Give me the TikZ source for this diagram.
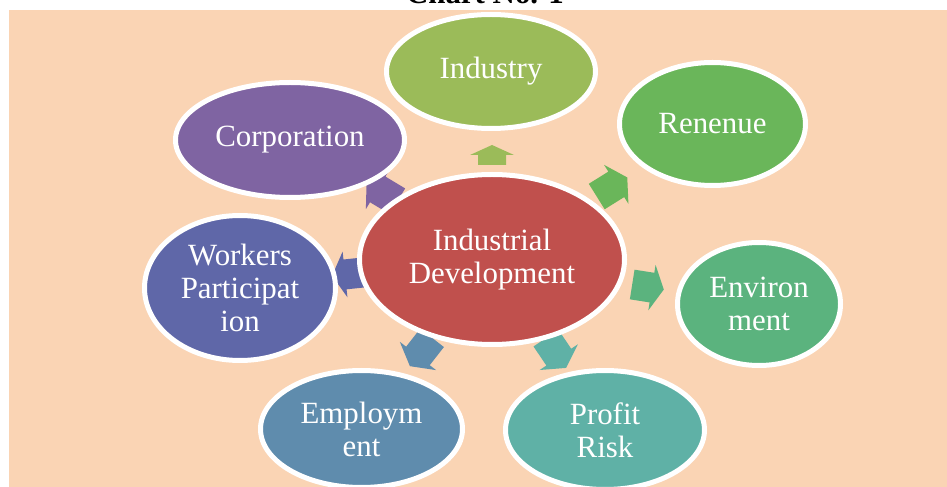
\documentclass[tikz,border=0pt]{standalone}
\usepackage{fontspec}
\setmainfont{Liberation Serif}
\usetikzlibrary{shapes.geometric}
\definecolor{bgpeach}{HTML}{FAD4B4}
\definecolor{cRed}{HTML}{C0504D}
\definecolor{cIndustry}{HTML}{9BBB59}
\definecolor{cRenenue}{HTML}{6AB65A}
\definecolor{cEnv}{HTML}{5BB37E}
\definecolor{cProfit}{HTML}{5FB1A6}
\definecolor{cEmploy}{HTML}{5F8CAD}
\definecolor{cWorkers}{HTML}{5F67A8}
\definecolor{cCorp}{HTML}{7F64A2}
\tikzset{
  bubble/.style={ellipse, draw=white, line width=5bp, text=white, align=center,
    inner sep=0pt, font=\fontsize{31}{33}\selectfont},
}
% block arrow: center x, center y, angle, length, colour, head length, shaft half, head half
\newcommand{\blkarrow}[8]{%
  \begin{scope}[shift={(#1,#2)}, rotate=#3]
    \fill[#5] (-#4/2,-#7) -- (#4/2-#6,-#7) -- (#4/2-#6,-#8) -- (#4/2,0)
      -- (#4/2-#6,#8) -- (#4/2-#6,#7) -- (-#4/2,#7) -- cycle;
  \end{scope}}
\begin{document}
\begin{tikzpicture}[x=1bp,y=-1bp]
\useasboundingbox (0,0) rectangle (947,487);
\clip (0,0) rectangle (947,487);
\fill[white] (0,0) rectangle (947,487);
\node[font=\fontsize{31}{33}\selectfont\bfseries, anchor=base] (title) at (485,4) {Chart No. 1};
\fill[bgpeach] (9,10) rectangle (947,487);
% arrows
\blkarrow{492}{155}{90}{20}{cIndustry}{10}{14}{22}
\blkarrow{612}{187}{32}{36}{cRenenue}{13}{15}{23}
\blkarrow{648}{287}{-9}{32}{cEnv}{12}{15}{23}
\blkarrow{556}{353}{-56}{36}{cProfit}{13}{15}{23}
\blkarrow{421}{352}{-128}{36}{cEmploy}{13}{15}{23}
\blkarrow{349}{274}{186}{34}{cWorkers}{13}{15}{23}
\blkarrow{382}{192}{149}{36}{cCorp}{13}{15}{23}
% ellipses
\node[bubble, fill=cIndustry, minimum width=209bp, minimum height=114bp] (industry) at (491,71.5) {Industry};
\node[bubble, fill=cRenenue, minimum width=186bp, minimum height=123bp] (renenue) at (712.5,124) {Renenue};
\node[bubble, fill=cEnv, minimum width=163bp, minimum height=123bp] (environ) at (759,304) {Environ\\ment};
\node[bubble, fill=cProfit, minimum width=199bp, minimum height=119bp] (profit) at (605,430) {Profit\\Risk};
\node[bubble, fill=cEmploy, minimum width=202bp, minimum height=117bp] (employ) at (361.5,429) {Employm\\ent};
\node[bubble, fill=cWorkers, minimum width=191bp, minimum height=145bp] (workers) at (240,288) {Workers\\Participat\\ion};
\node[bubble, fill=cCorp, minimum width=229bp, minimum height=115bp] (corp) at (290,140) {Corporation};
\node[bubble, fill=cRed, minimum width=265bp, minimum height=170bp] (center) at (492,259.5) {Industrial\\Development};
\end{tikzpicture}
\end{document}
